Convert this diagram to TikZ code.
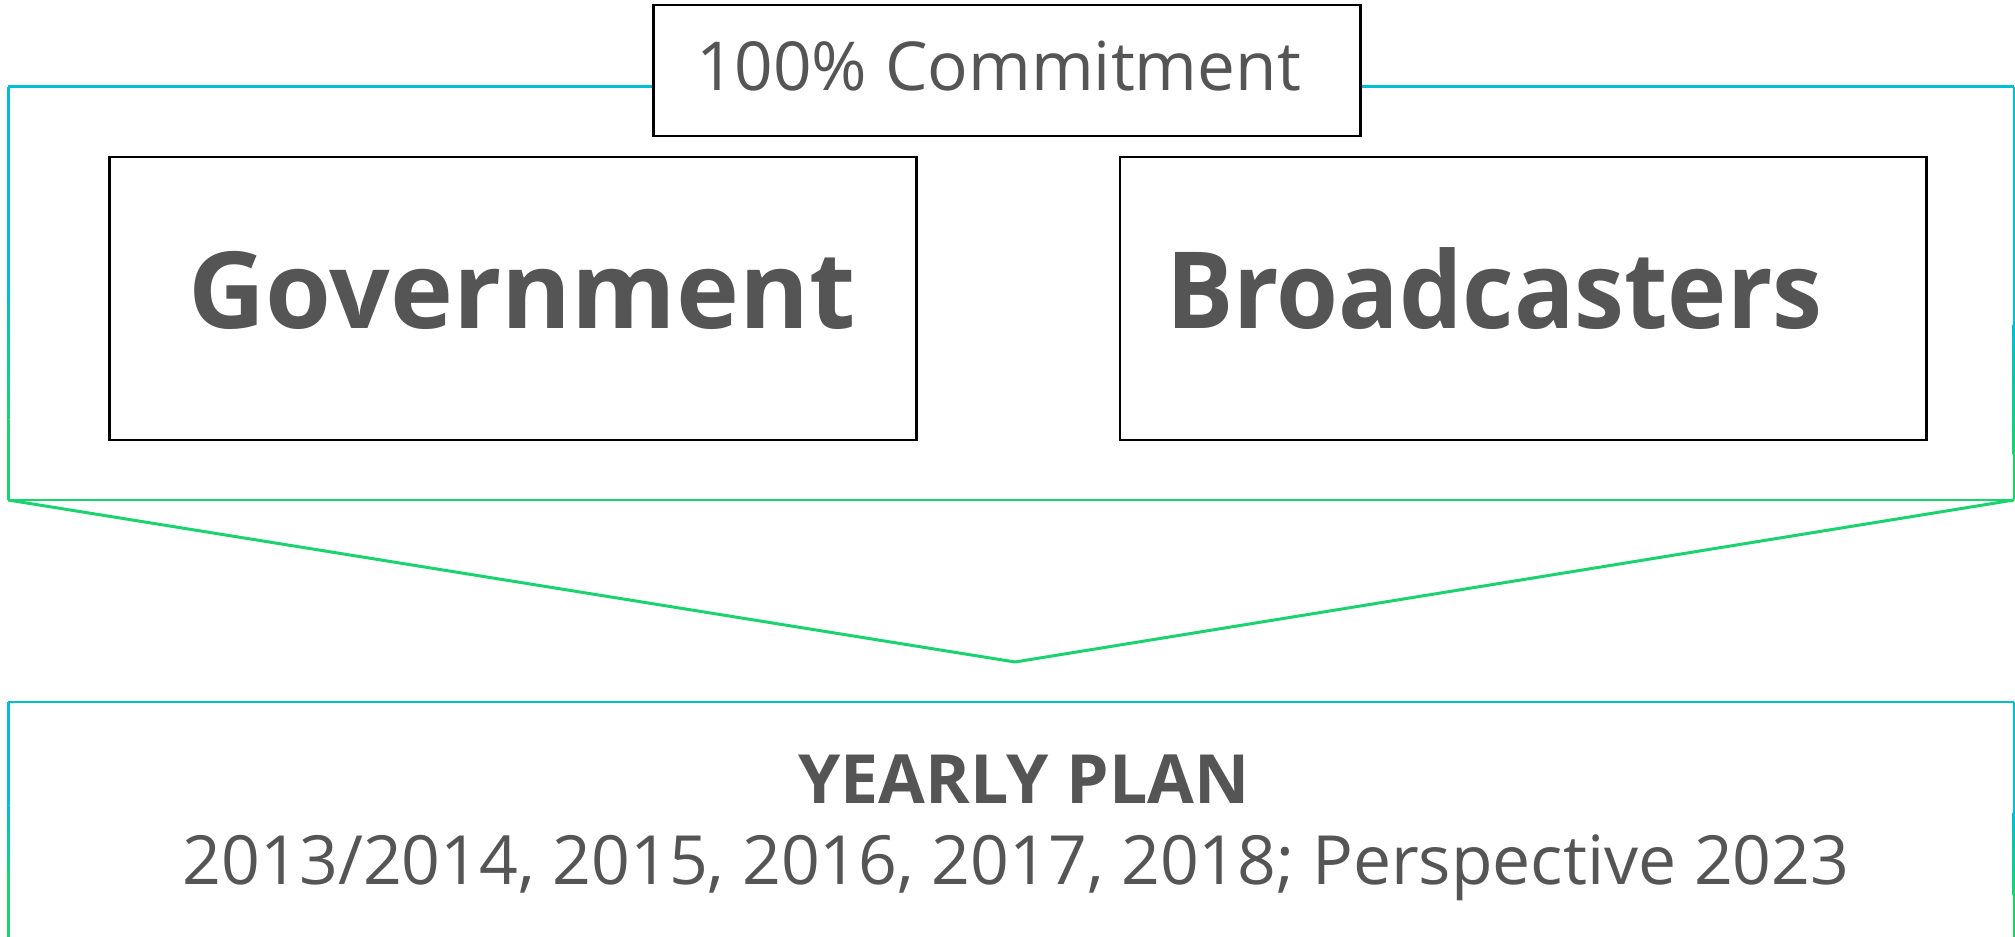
\documentclass[tikz,border=0pt]{standalone}
\usepackage{fontspec}
\setmainfont{Open Sans}
\usetikzlibrary{positioning}

\definecolor{frameCyan}{RGB}{0,190,212}
\definecolor{frameLime}{RGB}{135,222,40}
\definecolor{frameGreen}{RGB}{25,212,110}
\definecolor{textGrey}{RGB}{85,85,85}

\tikzset{
  partybox/.style={draw=black,line width=0.75pt,fill=white,text=textGrey,
    minimum width=8.06cm,minimum height=2.83cm,inner sep=0pt,
    text height=0.8cm,text depth=0.21cm,
    font=\bfseries\fontsize{30.3}{36}\selectfont},
  frameline/.style={line width=0.85pt},
}

\begin{document}
\begin{tikzpicture}[x=0.01cm,y=-0.01cm]
\useasboundingbox (0,0) rectangle (2015,937);

% upper frame
\draw[frameline,frameCyan] (8,87)--(2014,87);
\fill[frameCyan] (7,87) rectangle (9.5,280);
\shade[top color=frameCyan,middle color=frameLime,bottom color=frameGreen] (7,280) rectangle (9.5,420);
\fill[frameGreen] (7,420) rectangle (9.5,500);
\fill[frameCyan] (2012.5,87) rectangle (2015,325);
\shade[top color=frameCyan,middle color=frameLime,bottom color=frameGreen] (2012.5,325) rectangle (2015,455);
\fill[frameGreen] (2012.5,455) rectangle (2015,500);
\draw[frameline,frameGreen] (8,500)--(2014,500);

% pointer
\coordinate (tip) at (1015,662);
\draw[frameline,frameGreen,line join=round] (8,500)--(tip)--(2014,500);

% lower frame
\draw[frameline,frameCyan] (8,702)--(2014,702);
\fill[frameCyan] (7,702) rectangle (9.5,805);
\shade[top color=frameCyan,middle color=frameLime,bottom color=frameGreen] (7,805) rectangle (9.5,880);
\fill[frameGreen] (7,880) rectangle (9.5,937);
\fill[frameCyan] (2012.5,702) rectangle (2015,812);
\shade[top color=frameCyan,middle color=frameLime,bottom color=frameGreen] (2012.5,812) rectangle (2015,895);
\fill[frameGreen] (2012.5,895) rectangle (2015,937);

\node[partybox] (gov) at (513,298.5) {\kern0.18cm Government};
\node[partybox,right=2.01cm of gov] (brd) {\scalebox{0.94}[1]{Broadcasters}\kern0.58cm};

\node[draw=black,line width=0.75pt,fill=white,text=textGrey,inner sep=0pt,
  minimum width=7.06cm,minimum height=1.31cm,text height=0.6cm,text depth=0.21cm,
  font=\fontsize{19.2}{24}\selectfont] (commit) at (1007,70.5) {100\% Commitment\kern0.17cm};

\node[text=textGrey,align=center,font=\fontsize{19.3}{23}\selectfont] (plan) at (1016,828)
  {\hspace{0.16cm}{\bfseries YEARLY PLAN}\\2013/2014, 2015, 2016, 2017, 2018; Perspective 2023};
\end{tikzpicture}
\end{document}
